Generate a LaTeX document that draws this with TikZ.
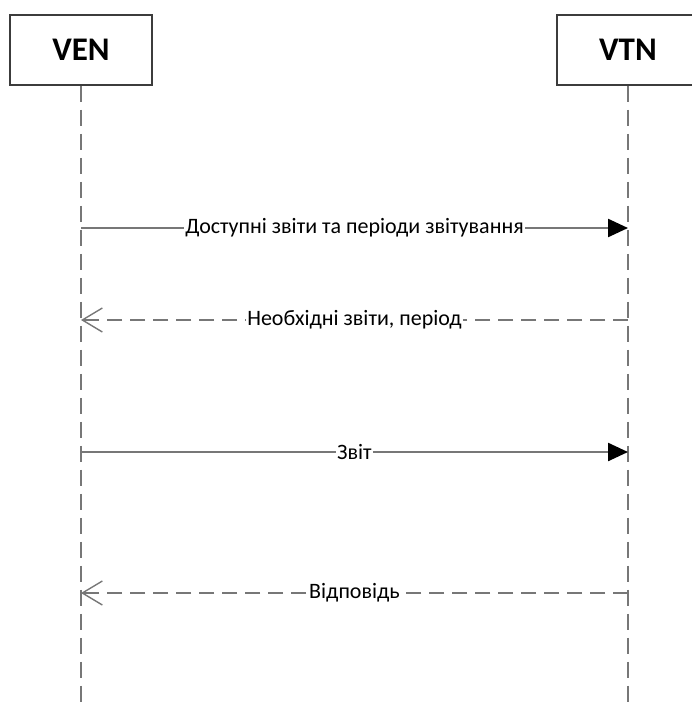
\documentclass[tikz,border=0pt]{standalone}
\usepackage{fontspec}
\setmainfont{Carlito}
\usetikzlibrary{arrows.meta}
\definecolor{lineg}{HTML}{777777}
\definecolor{boxg}{HTML}{3C3C3C}
\tikzset{
  x=1pt, y=-1pt,
  actor/.style={draw=boxg, line width=1.8pt, fill=white, minimum width=142pt,
    minimum height=70pt, inner sep=0pt, font=\fontsize{33}{40}\selectfont\bfseries},
  lifeline/.style={draw=lineg, line width=2.4pt, dash pattern=on 16pt off 8pt},
  msgcall/.style={draw=lineg, line width=2.4pt, -{Triangle[length=20pt,width=18pt,color=black]}},
  msgreply/.style={draw=lineg, line width=2.4pt, dash pattern=on 15pt off 8pt,
    -{Straight Barb[length=20pt,width=24pt,line width=1.4pt]}},
  msglabel/.style={fill=white, inner xsep=1pt, inner ysep=2pt, text=black,
    font=\fontsize{22}{26}\selectfont}
}
\begin{document}
\begin{tikzpicture}
\useasboundingbox (0,0) rectangle (692,704);
\clip (0,0) rectangle (692,704);
\fill[white] (0,0) rectangle (692,704);

% participants
\node[actor] (ven) at (81,50) {VEN};
\node[actor] (vtn) at (628,50) {VTN};

% lifeline ends
\coordinate (venEnd) at (81,704);
\coordinate (vtnEnd) at (628,704);
\draw[lifeline] (ven.south) -- (venEnd);
\draw[lifeline] (vtn.south) -- (vtnEnd);

% message anchors on the lifelines
\coordinate (a1) at (81,228);  \coordinate (b1) at (628,228);
\coordinate (a2) at (81,320);  \coordinate (b2) at (628,320);
\coordinate (a3) at (81,452);  \coordinate (b3) at (628,452);
\coordinate (a4) at (81,593);  \coordinate (b4) at (628,593);

\draw[msgcall] (a1) -- node[msglabel] {Доступні звіти та періоди звітування} (b1);
\draw[msgreply] (b2) -- node[msglabel] {Необхідні звіти, період} (a2);
\draw[msgcall] (a3) -- node[msglabel] {Звіт} (b3);
\draw[msgreply] (b4) -- node[msglabel] {Відповідь} (a4);
\end{tikzpicture}
\end{document}
